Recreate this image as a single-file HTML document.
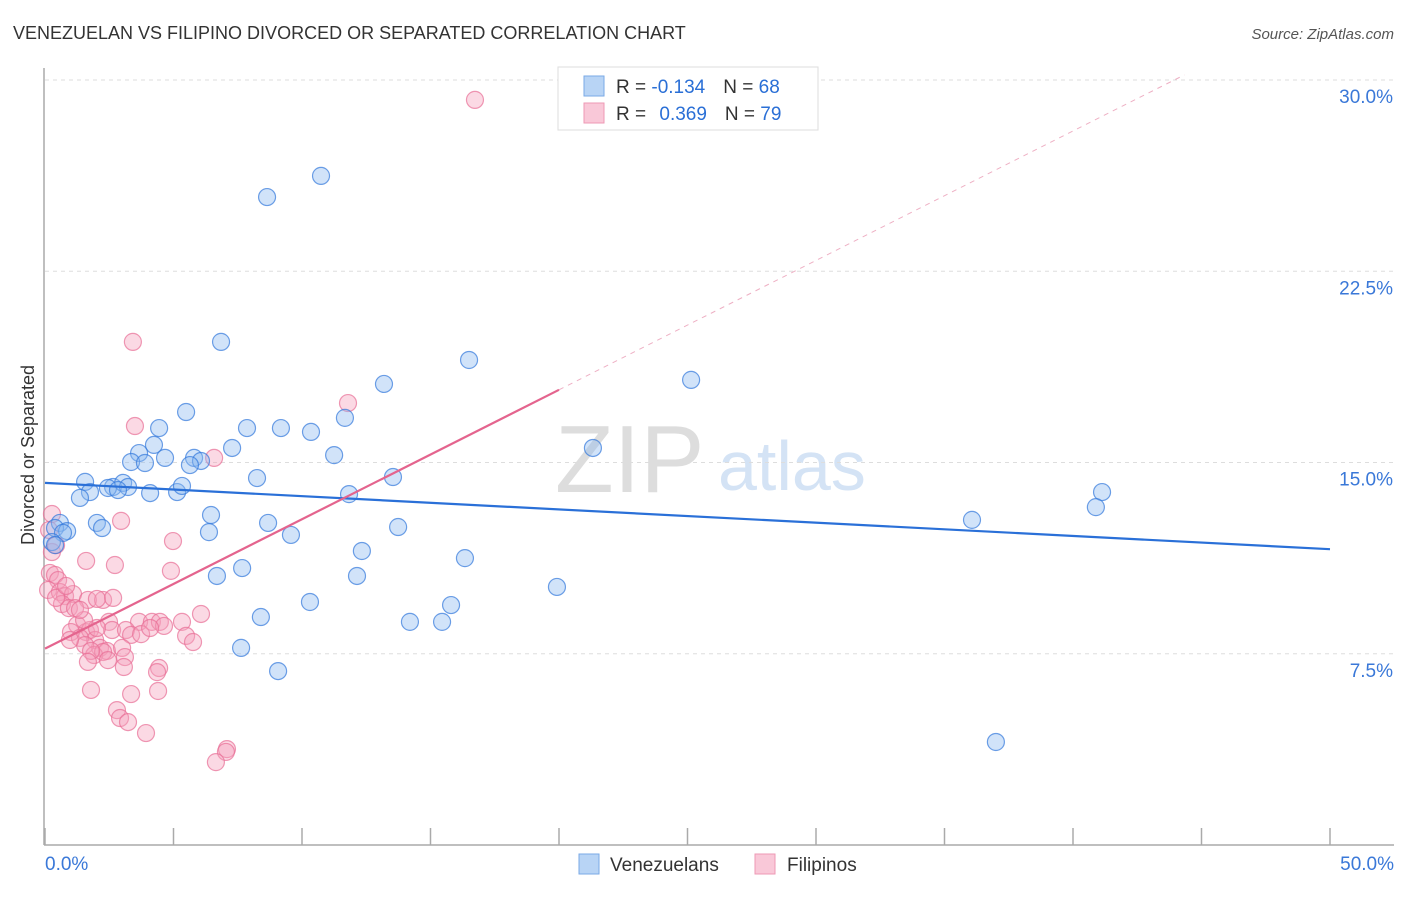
<!DOCTYPE html>
<html><head><meta charset="utf-8"><style>
body{margin:0;background:#fff;font-family:"Liberation Sans",sans-serif;}
svg text{font-family:"Liberation Sans",sans-serif;}
</style></head><body>
<svg id="chart" width="1406" height="892" viewBox="0 0 1406 892" xmlns="http://www.w3.org/2000/svg">
<text x="13" y="39" font-size="18" fill="#333">VENEZUELAN VS FILIPINO DIVORCED OR SEPARATED CORRELATION CHART</text>
<text x="1394" y="39" font-size="15" fill="#555" font-style="italic" text-anchor="end">Source: ZipAtlas.com</text>
<text x="555" y="492" font-size="96" fill="#ddd" font-family="Liberation Serif">ZIP</text>
<text x="718" y="490" font-size="70" fill="#d4e3f5">atlas</text>
<g id="grid"></g>
<line x1="44" y1="68" x2="44" y2="845" stroke="#aaa" stroke-width="1.5"/>
<line x1="44" y1="845" x2="1394" y2="845" stroke="#aaa" stroke-width="1.5"/>
<g id="ticks"></g>
<text transform="translate(34,455) rotate(-90)" font-size="18" fill="#333" text-anchor="middle">Divorced or Separated</text>
<g id="pts"></g>
<g id="lines"></g>
<g>
<rect x="558" y="67" width="260" height="63" fill="#fff" stroke="#ddd"/>
<rect x="584" y="76" width="20" height="20" fill="#b8d4f5" stroke="#7aaae6"/>
<rect x="584" y="103" width="20" height="20" fill="#f9c8d8" stroke="#ee99b4"/>
<text x="616" y="93" font-size="19" fill="#333">R = <tspan fill="#2a6fd6">-0.134</tspan><tspan dx="18">N = </tspan><tspan fill="#2a6fd6">68</tspan></text>
<text x="616" y="120" font-size="19" fill="#333">R = <tspan fill="#2a6fd6" dx="8">0.369</tspan><tspan dx="18">N = </tspan><tspan fill="#2a6fd6">79</tspan></text>
</g>
<g>
<rect x="579" y="854" width="20" height="20" fill="#b8d4f5" stroke="#7aaae6"/>
<text x="610" y="871" font-size="19" fill="#333">Venezuelans</text>
<rect x="755" y="854" width="20" height="20" fill="#f9c8d8" stroke="#ee99b4"/>
<text x="787" y="871" font-size="19" fill="#333">Filipinos</text>
</g>
</svg>
<script>
const yTicks=[7.5,15,22.5,30];
const yTickLabels=["7.5%","15.0%","22.5%","30.0%"];
const xTickLabels=["0.0%","50.0%"];
const bluePx=[[267,197],[321,176],[221,342],[469,360],[384,384],[691,380],[186,412],[345,418],[159,428],[247,428],[281,428],[311,432],[154,445],[232,448],[593,448],[139,453],[194,458],[165,458],[334,455],[131,462],[145,463],[201,461],[190,465],[257,478],[393,477],[85,482],[113,487],[108,488],[123,483],[128,487],[118,490],[90,492],[150,493],[177,492],[182,486],[349,494],[80,498],[1102,492],[1096,507],[211,515],[97,523],[268,523],[398,527],[972,520],[102,528],[60,523],[55,528],[67,531],[63,533],[209,532],[291,535],[52,542],[55,545],[362,551],[465,558],[242,568],[217,576],[357,576],[557,587],[310,602],[451,605],[261,617],[410,622],[442,622],[241,648],[278,671],[996,742]];
const pinkPx=[[475,100],[133,342],[348,403],[135,426],[214,458],[173,541],[121,521],[52,514],[49,530],[52,552],[86,561],[115,565],[171,571],[50,573],[55,575],[58,580],[48,590],[60,592],[65,596],[73,594],[62,604],[69,608],[56,598],[88,600],[103,600],[97,599],[201,614],[139,622],[152,622],[109,622],[182,622],[160,622],[77,625],[86,632],[71,632],[90,630],[95,640],[80,638],[112,630],[126,630],[131,635],[141,634],[164,626],[186,636],[193,642],[100,648],[107,651],[85,645],[122,648],[70,640],[94,655],[103,652],[125,657],[91,651],[108,660],[88,662],[124,667],[159,668],[157,672],[91,690],[131,694],[158,691],[117,710],[120,718],[128,722],[146,733],[227,749],[226,752],[216,762],[97,628],[84,620],[75,608],[66,586],[150,628],[80,610],[56,545],[113,598]];
// convert reading to data values (% units)
const blueX=bluePx.map(p=>+((p[0]-45)/25.7).toFixed(2));
const blueY=bluePx.map(p=>+((845-p[1])/25.5).toFixed(2));
const pinkX=pinkPx.map(p=>+((p[0]-45)/25.7).toFixed(2));
const pinkY=pinkPx.map(p=>+((845-p[1])/25.5).toFixed(2));
const blueTrend=[14.2,11.6];   // y at x=0, x=50
const pinkTrend=[7.7,17.85];   // y at x=0, x=20
const NS="http://www.w3.org/2000/svg";
const sx=v=>45+v*25.7, sy=v=>845-v*25.5;
function mk(tag,attrs,parent){const e=document.createElementNS(NS,tag);for(const k in attrs)e.setAttribute(k,attrs[k]);parent.appendChild(e);return e;}
const grid=document.getElementById('grid'),ticks=document.getElementById('ticks'),pts=document.getElementById('pts'),lines=document.getElementById('lines');
yTicks.forEach((t,i)=>{
 const l=mk('line',{x1:45,x2:1394,y1:sy(t),y2:sy(t),stroke:'#ddd','stroke-dasharray':'4 4'},grid);
 
 
 const tx=mk('text',{x:1393,y:sy(t)+23,'font-size':19,fill:'#3a78d8','text-anchor':'end'},ticks);
 tx.textContent=yTickLabels[i];
 
 
});
for(let i=0;i<=10;i++){
 const x=sx(i*5);
 const t=mk('line',{x1:x,x2:x,y1:828,y2:845,stroke:'#aaa','stroke-width':1.5},ticks);
 
 
}
[[45,'start'],[1394,'end']].forEach((a,i)=>{
 const tx=mk('text',{x:a[0],y:870,'font-size':19,fill:'#3a78d8','text-anchor':a[1]},ticks);
 tx.textContent=xTickLabels[i];
 
 
});
pinkX.forEach((x,i)=>{
 const c=mk('circle',{cx:sx(x),cy:sy(pinkY[i]),r:8.5,fill:'rgba(244,160,188,0.4)',stroke:'rgba(232,110,150,0.7)','stroke-width':1.2},pts);
 
 
});
blueX.forEach((x,i)=>{
 const c=mk('circle',{cx:sx(x),cy:sy(blueY[i]),r:8.5,fill:'rgba(140,185,240,0.4)',stroke:'rgba(50,120,220,0.7)','stroke-width':1.2},pts);
 
 
});
const bl=mk('line',{x1:sx(0),y1:sy(blueTrend[0]),x2:sx(50),y2:sy(blueTrend[1]),stroke:'#2a70d8','stroke-width':2.2},lines);


const slope=(pinkTrend[1]-pinkTrend[0])/20;
const pl=mk('line',{x1:sx(0),y1:sy(pinkTrend[0]),x2:sx(20),y2:sy(pinkTrend[1]),stroke:'#e4648e','stroke-width':2.2},lines);


const xe=(30.2-pinkTrend[0])/slope;
const pd=mk('line',{x1:sx(20),y1:sy(pinkTrend[1]),x2:sx(xe),y2:sy(30.2),stroke:'#eeb0c4','stroke-width':1,'stroke-dasharray':'5 5'},lines);


</script>
</body></html>
